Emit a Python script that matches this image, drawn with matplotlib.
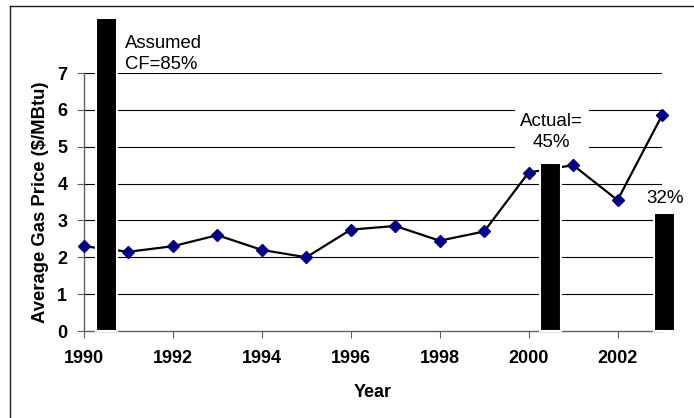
import matplotlib
matplotlib.use("Agg")
import matplotlib.pyplot as plt
from matplotlib.lines import Line2D

plt.rcParams['font.family'] = ['Liberation Sans', 'DejaVu Sans']

years = [1990, 1991, 1992, 1993, 1994, 1995, 1996, 1997, 1998, 1999, 2000, 2001, 2002, 2003]
gas_price = [2.3, 2.15, 2.3, 2.6, 2.2, 2.0, 2.75, 2.85, 2.45, 2.7, 4.3, 4.5, 3.55, 5.85]

bar_x = [1990.5, 2000.5, 2003.05]
bar_h = [8.5, 4.55, 3.2]
bar_labels = ["Assumed\nCF=85%", "Actual=\n45%", "32%"]

xticks = [1990, 1992, 1994, 1996, 1998, 2000, 2002]
yticks = [0, 1, 2, 3, 4, 5, 6, 7]

W, H = 694, 418
fig = plt.figure(figsize=(W / 100, H / 100), dpi=100)
ax = fig.add_axes([84 / W, 1 - 331 / H, (662 - 84) / W, (331 - 73) / H])

ax.set_xlim(1990, 2003)
ax.set_ylim(0, 7)
for y in yticks[1:]:
    ax.axhline(y, color='black', lw=0.8, zorder=1)

ax.plot(years, gas_price, color='black', lw=1.6, zorder=2)
ax.plot(years, gas_price, ls='none', marker='D', ms=6.6, color='#000080',
        markeredgecolor='#000080', zorder=4, clip_on=False)

ax.bar(bar_x, bar_h, width=0.47, color='black', edgecolor='white', lw=1.5,
       zorder=3, clip_on=False)

ax.text(1990.92, 8.03, bar_labels[0], ha='left', va='top', fontsize=13.3,
        linespacing=1.3, zorder=5)
ax.text(2000.52, 5.4, bar_labels[1], ha='center', va='center', fontsize=13.5,
        linespacing=1.3, zorder=5,
        bbox=dict(facecolor='white', edgecolor='none', pad=4))
ax.text(2003.07, 3.6, bar_labels[2], ha='center', va='center', fontsize=13.5,
        zorder=5)

ax.set_xticks(xticks)
ax.set_xticklabels([str(t) for t in xticks], fontweight='bold', fontsize=13)
ax.set_yticks(yticks)
ax.set_yticklabels([str(t) for t in yticks], fontweight='bold', fontsize=13)
ax.tick_params(axis='both', direction='out', length=5, width=0.8,
               color='#606060')
ax.tick_params(axis='y', pad=7)
ax.tick_params(axis='x', pad=9)

for s in ['top', 'right']:
    ax.spines[s].set_visible(False)
for s in ['left', 'bottom']:
    ax.spines[s].set_color('#606060')
    ax.spines[s].set_linewidth(1.0)

ax.set_xlabel("Year", fontweight='bold', fontsize=13, labelpad=12)
ax.set_ylabel("Average Gas Price ($/MBtu)", fontweight='bold', fontsize=13.3,
              labelpad=6)

fig.add_artist(Line2D([9.5 / W, 1], [1 - 6 / H, 1 - 6 / H], color='#202020',
                      lw=1.0, transform=fig.transFigure))
fig.add_artist(Line2D([9.5 / W, 9.5 / W], [0, 1 - 6 / H], color='#202020',
                      lw=1.0, transform=fig.transFigure))

fig.savefig("out.png", dpi=100)
